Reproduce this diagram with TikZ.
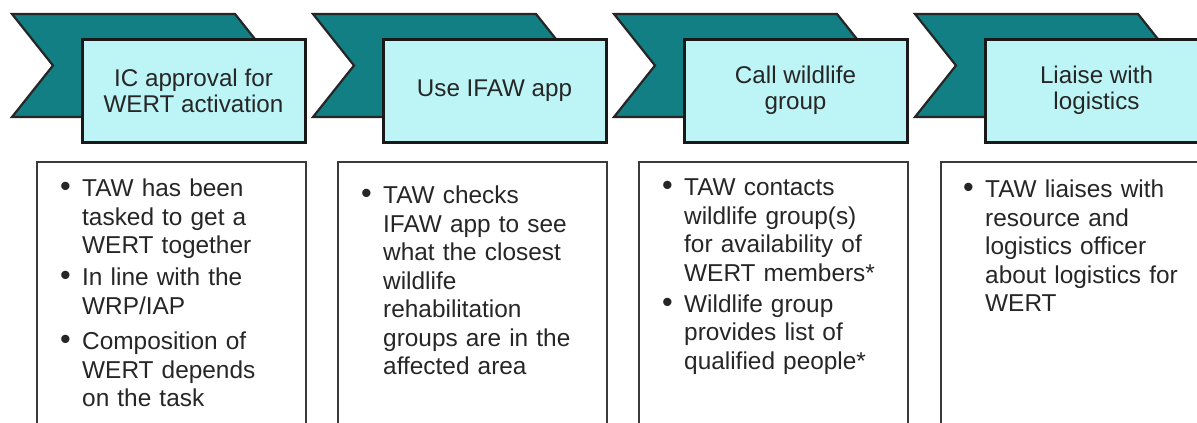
\documentclass[tikz,border=0pt]{standalone}
\usepackage{fontspec}
\setmainfont{Liberation Sans}
\definecolor{stepteal}{HTML}{117F83}
\definecolor{stepcyan}{HTML}{BDF5F7}
\definecolor{stepink}{HTML}{262626}
\definecolor{noteedge}{HTML}{3A3A3A}

% banner behind each step, #1 is its left x
\newcommand{\chevronpath}[1]{(#1,14) -- ++(223,0) -- ++(41,51.5) -- ++(-41,51.5) -- ++(-223,0) -- ++(41,-51.5) -- cycle}
% bullet item, #1 is the gap above it
\newcommand{\bitem}[2][0pt]{\par\vspace{#1}\hangindent=22pt\hangafter=1\noindent\llap{\makebox[22pt][l]{\scalebox{1.25}{\textbullet}}}#2}

\begin{document}
\begin{tikzpicture}[
  x=1pt,
  y=-1pt,
  chevron/.style={fill=stepteal, draw=stepink, line width=2.2pt, line join=miter},
  stepbox/.style={draw=black!90, fill=stepcyan, line width=3pt, minimum width=223, minimum height=103,
    inner sep=0pt, align=center, text=stepink, font=\fontsize{24.2}{26}\selectfont},
  notebox/.style={draw=noteedge, fill=white, line width=2pt, minimum width=269, minimum height=290,
    inner sep=0pt, anchor=north west},
  notetext/.style={text width=225, inner sep=0pt, anchor=north west, align=left, text=stepink,
    font=\fontsize{24.4}{28.5}\selectfont}
]
  \useasboundingbox (0,0) rectangle (1197,423);
  \clip (0,0) rectangle (1197,423);

  % steps along the top
  \path[chevron] \chevronpath{12};
  \node[stepbox] (step1) at (193.5,90.5) {IC approval for\\WERT activation};
  \path[chevron] \chevronpath{313};
  \node[stepbox] (step2) at (494.5,90.5) {Use IFAW app};
  \path[chevron] \chevronpath{614};
  \node[stepbox] (step3) at (795.5,90.5) {Call wildlife\\group};
  \path[chevron] \chevronpath{915};
  \node[stepbox] (step4) at (1096.5,90.5) {Liaise with\\logistics};

  % notes under each step
  \node[notebox] (note1) at (36,161) {};
  \node[notebox] (note2) at (337,161) {};
  \node[notebox] (note3) at (638,161) {};
  \node[notebox] (note4) at (940,161) {};

  \node[notetext] (text1) at ([shift={(46,7)}]note1.north west) {%
    \bitem{TAW has been\\tasked to get a\\WERT together}%
    \bitem[3.5pt]{In line with the\\WRP/IAP}%
    \bitem[7pt]{Composition of\\WERT depends\\on the task}};
  \node[notetext] (text2) at ([shift={(46,14)}]note2.north west) {%
    \bitem{TAW checks\\IFAW app to see\\what the closest\\wildlife\\rehabilitation\\groups are in the\\affected area}};
  \node[notetext] (text3) at ([shift={(46,6)}]note3.north west) {%
    \bitem{TAW contacts\\wildlife group(s)\\for availability of\\WERT members*}%
    \bitem[2.5pt]{Wildlife group\\provides list of\\qualified people*}};
  \node[notetext] (text4) at ([shift={(45,8)}]note4.north west) {%
    \bitem{TAW liaises with\\resource and\\logistics officer\\about logistics for\\WERT}};
\end{tikzpicture}
\end{document}
